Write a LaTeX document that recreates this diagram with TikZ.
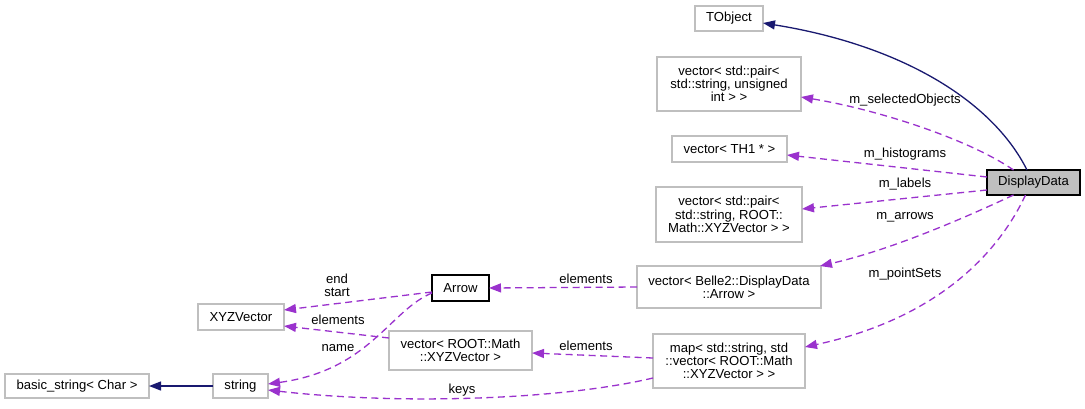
\documentclass[tikz,border=0pt]{standalone}
\usepackage{fontspec}
\setmainfont{Liberation Sans}
\usetikzlibrary{arrows.meta}
\definecolor{edgepurple}{HTML}{9A32CD}
\definecolor{edgenavy}{HTML}{191970}
\definecolor{boxgray}{HTML}{BFBFBF}
\begin{document}
\begin{tikzpicture}[x=1pt,y=-1pt,
  every node/.style={font=\fontsize{13.1pt}{13.3pt}\selectfont, inner sep=0pt, outer sep=0pt},
  cls/.style={draw=boxgray, line width=1.2pt, fill=white, align=center},
  main/.style={draw=black, line width=1.2pt, fill=boxgray, align=center},
  focus/.style={draw=black, line width=1.2pt, fill=white, align=center},
  usage/.style={draw=edgepurple, line width=1.3pt, dash pattern=on 7pt off 4.5pt, -{Triangle[length=12pt,width=9pt,fill=edgepurple]}},
  inherit/.style={draw=edgenavy, line width=1.3pt, -{Triangle[length=12pt,width=9pt,fill=edgenavy]}},
  elabel/.style={align=center}
]
\path[use as bounding box, fill=white] (0,0) rectangle (1085,408);

% nodes
\node[cls, minimum width=68pt, minimum height=25pt] (tobj) at (729,18.5) {TObject};
\node[cls, minimum width=144pt, minimum height=54pt] (sel) at (729,84) {vector< std::pair<\\ std::string, unsigned\\ int > >};
\node[cls, minimum width=115pt, minimum height=26pt] (th1) at (729.5,149) {vector< TH1 * >};
\node[main, minimum width=93pt, minimum height=25pt] (dd) at (1033.5,182.5) {DisplayData};
\node[cls, minimum width=146pt, minimum height=55pt] (lab) at (729,214.5) {vector< std::pair<\\ std::string, ROOT::\\ Math::XYZVector > >};
\node[cls, minimum width=184pt, minimum height=42pt] (arrvec) at (729,287) {vector< Belle2::DisplayData\\ ::Arrow >};
\node[cls, minimum width=152pt, minimum height=54pt] (map) at (729,361) {map< std::string, std\\ ::vector< ROOT::Math\\ ::XYZVector > >};
\node[focus, minimum width=57pt, minimum height=26pt] (arrow) at (460.5,288) {Arrow};
\node[cls, minimum width=143pt, minimum height=39pt] (xyzvec) at (460.5,350.5) {vector< ROOT::Math\\ ::XYZVector >};
\node[cls, minimum width=86pt, minimum height=26pt] (xyz) at (241,317) {XYZVector};
\node[cls, minimum width=144pt, minimum height=24pt] (bstr) at (77,386) {basic\_string< Char >};
\node[cls, minimum width=55pt, minimum height=24pt] (str) at (240.5,386) {string};

% edges
\draw[inherit] ([xshift=-6.5pt]dd.north) .. controls (992,100) and (900,45) .. ([yshift=-4.5pt]tobj.east);
\draw[usage] ([xshift=-20pt]dd.north) .. controls (970,140) and (880,110) .. ([yshift=-13pt]sel.east);
\draw[usage] ([yshift=5.5pt]dd.west) -- ([yshift=-6pt]th1.east);
\draw[usage] ([yshift=-7.5pt]dd.west) -- ([yshift=5.5pt]lab.east);
\draw[usage] ([xshift=-20pt]dd.south) .. controls (960,220) and (890,250) .. ([xshift=-1pt]arrvec.north east);
\draw[usage] ([xshift=-8pt]dd.south) .. controls (995,260) and (930,320) .. ([yshift=14pt]map.east);
\draw[usage] (arrvec.west) -- (arrow.east);
\draw[usage] ([yshift=3pt]map.west) -- ([yshift=-2.5pt]xyzvec.east);
\draw[usage] ([yshift=-17pt]map.west) .. controls (560,400) and (400,405) .. ([yshift=-4pt]str.east);
\draw[usage] ([yshift=-4pt]arrow.west) -- ([yshift=7pt]xyz.east);
\draw[usage] ([yshift=12.5pt]xyzvec.west) -- ([yshift=-9pt]xyz.east);
\draw[usage] ([yshift=-5pt]arrow.west) .. controls (390,310) and (370,370) .. ([yshift=2pt]str.east);
\draw[inherit] (str.west) -- (bstr.east);

% labels
\node[elabel] (lsel) at (905,100) {m\_selectedObjects};
\node[elabel] (lhist) at (905,154) {m\_histograms};
\node[elabel] (llab) at (905,184) {m\_labels};
\node[elabel] (larr) at (905,217) {m\_arrows};
\node[elabel] (lps) at (905,274) {m\_pointSets};
\node[elabel] (lel1) at (586,279) {elements};
\node[elabel] (lel2) at (586,346) {elements};
\node[elabel] (lkeys) at (462,390) {keys};
\node[elabel] (lend) at (337,285.5) {end\\start};
\node[elabel] (lel3) at (338,320) {elements};
\node[elabel] (lname) at (338,348) {name};
\end{tikzpicture}
\end{document}
